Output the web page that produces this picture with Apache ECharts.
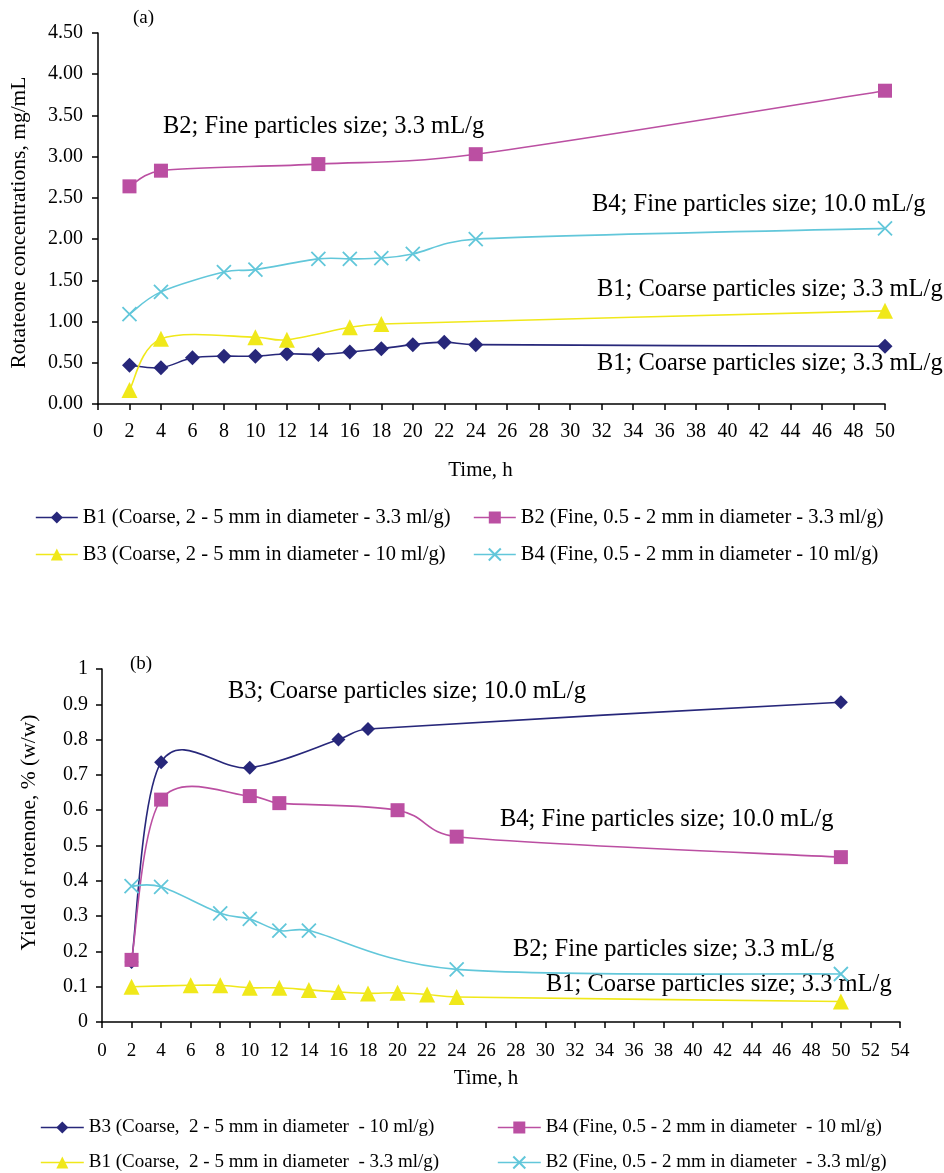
<!DOCTYPE html>
<html>
<head>
<meta charset="utf-8">
<script src="https://cdn.jsdelivr.net/npm/echarts@6/dist/echarts.min.js"></script>
<style>
html,body{margin:0;padding:0;background:#fff;}
#c{width:944px;height:1173px;}
</style>
</head>
<body>
<div id="c"></div>
<script>
// ---------- Panel (a): Rotateone concentrations, mg/mL ----------
const aB1_t = [2,4,6,8,10,12,14,16,18,20,22,24,50];
const aB1_v = [0.47,0.44,0.56,0.58,0.58,0.61,0.60,0.63,0.67,0.72,0.75,0.72,0.70];
const aB2_t = [2,4,14,24,50];
const aB2_v = [2.64,2.83,2.91,3.03,3.80];
const aB3_t = [2,4,10,12,16,18,50];
const aB3_v = [0.17,0.79,0.81,0.78,0.93,0.97,1.13];
const aB4_t = [2,4,8,10,14,16,18,20,24,50];
const aB4_v = [1.09,1.36,1.60,1.63,1.76,1.76,1.77,1.82,2.00,2.13];

// ---------- Panel (b): Yield of rotenone, % (w/w) ----------
const bB3_t = [2,4,10,16,18,50];
const bB3_v = [0.17,0.736,0.72,0.80,0.83,0.906];
const bB4_t = [2,4,10,12,20,24,50];
const bB4_v = [0.176,0.63,0.64,0.62,0.60,0.525,0.467];
const bB1_t = [2,6,8,10,12,14,16,18,20,22,24,50];
const bB1_v = [0.100,0.104,0.104,0.097,0.097,0.091,0.085,0.081,0.083,0.078,0.071,0.058];
const bB2_t = [2,4,8,10,12,14,24,50];
const bB2_v = [0.385,0.383,0.308,0.292,0.259,0.259,0.149,0.136];

// legend names
const nameA = [
  'B1 (Coarse, 2 - 5 mm in diameter - 3.3 ml/g)',
  'B2 (Fine, 0.5 - 2 mm in diameter - 3.3 ml/g)',
  'B3 (Coarse, 2 - 5 mm in diameter - 10 ml/g)',
  'B4 (Fine, 0.5 - 2 mm in diameter - 10 ml/g)'
];
const nameB = [
  'B3 (Coarse,  2 - 5 mm in diameter  - 10 ml/g)',
  'B4 (Fine, 0.5 - 2 mm in diameter  - 10 ml/g)',
  'B1 (Coarse,  2 - 5 mm in diameter  - 3.3 ml/g)',
  'B2 (Fine, 0.5 - 2 mm in diameter  - 3.3 ml/g)'
];

// annotation texts
const annA = [
  'B2; Fine particles size; 3.3 mL/g',
  'B4; Fine particles size; 10.0 mL/g',
  'B1; Coarse particles size; 3.3 mL/g',
  'B1; Coarse particles size; 3.3 mL/g'
];
const annB = [
  'B3; Coarse particles size; 10.0 mL/g',
  'B4; Fine particles size; 10.0 mL/g',
  'B2; Fine particles size; 3.3 mL/g',
  'B1; Coarse particles size; 3.3 mL/g'
];

const FONT = '"Liberation Serif", "Times New Roman", serif';
const NAVY = '#27277a';
const MAG = '#bb4fa2';
const YEL = '#f0e81a';
const CYAN = '#62c7da';
const XSYM = 'path://M0,0L10,10M10,0L0,10';
const LW = 1.6;

function pairs(t, v){ return t.map((x,i)=>[x, v[i]]); }

// markers (line itself hidden; drawn by the smooth curve series below)
function mkSeries(name, t, v, color, symbol, size, gi, isX){
  return {
    type:'line', name:name, xAxisIndex:gi, yAxisIndex:gi,
    data: pairs(t,v), smooth:false, symbol:symbol, symbolSize:size,
    showAllSymbol:true,
    lineStyle:{color:color, width:LW, opacity:0},
    itemStyle: isX ? {color:color, borderColor:color, borderWidth:1.8} : {color:color, borderWidth:0},
    emphasis:{disabled:true}, animation:false, z:3
  };
}

// Excel-like smoothed curve (Bezier, 1/6 tension, arm limited to half segment) via axis coords
function dist(a,b){ return Math.hypot(a[0]-b[0], a[1]-b[1]); }
function curveSeries(t, v, color, gi){
  const data = pairs(t,v);
  const n = data.length;
  return {
    type:'custom', xAxisIndex:gi, yAxisIndex:gi, silent:true, z:2, animation:false,
    data:data,
    renderItem:function(params, api){
      const i = params.dataIndex;
      if (i >= n-1) return null;
      const P = k => api.coord(data[Math.max(0, Math.min(n-1, k))]);
      const p0 = P(i-1), p1 = P(i), p2 = P(i+1), p3 = P(i+2);
      const d12 = dist(p1,p2), d02 = dist(p0,p2), d13 = dist(p1,p3);
      const f1 = d02 > 1e-9 ? Math.min(1/6, d12/(2*d02)) : 0;
      const f2 = d13 > 1e-9 ? Math.min(1/6, d12/(2*d13)) : 0;
      const c1 = [p1[0] + (p2[0]-p0[0])*f1, p1[1] + (p2[1]-p0[1])*f1];
      const c2 = [p2[0] - (p3[0]-p1[0])*f2, p2[1] - (p3[1]-p1[1])*f2];
      return {
        type:'bezierCurve',
        shape:{x1:p1[0], y1:p1[1], x2:p2[0], y2:p2[1], cpx1:c1[0], cpy1:c1[1], cpx2:c2[0], cpy2:c2[1]},
        style:{stroke:color, lineWidth:LW, fill:null}
      };
    }
  };
}

function axisX(gi, max, fs, margin, gap, padRight){
  return {
    type:'value', gridIndex:gi, min:0, max:max, interval:2, splitLine:{show:false},
    axisLine:{show:true, onZero:false, lineStyle:{color:'#000', width:1.5}},
    axisTick:{show:true, inside:false, length:6, lineStyle:{color:'#000', width:1.5}},
    axisLabel:{color:'#000', fontFamily:FONT, fontSize:fs, margin:margin},
    name:'Time, h', nameLocation:'middle', nameGap:gap,
    nameTextStyle:{color:'#000', fontFamily:FONT, fontSize:21, padding:[0,padRight,0,0]}
  };
}
function axisY(gi, max, interval, fs, margin, fmt, name, gap, pad){
  return {
    type:'value', gridIndex:gi, min:0, max:max, interval:interval, splitLine:{show:false},
    axisLine:{show:true, onZero:false, lineStyle:{color:'#000', width:1.5}},
    axisTick:{show:true, inside:false, length:6, lineStyle:{color:'#000', width:1.5}},
    axisLabel:{color:'#000', fontFamily:FONT, fontSize:fs, margin:margin, formatter:fmt},
    name:name, nameLocation:'middle', nameRotate:90, nameGap:gap,
    nameTextStyle:{color:'#000', fontFamily:FONT, fontSize:21.5, padding:pad}
  };
}

function legendAt(name, left, top, iw, fs){
  return {
    data:[name], left:left, top:top, orient:'horizontal',
    itemWidth:iw, itemHeight:15, itemGap:0, padding:0,
    lineStyle:{opacity:1, width:LW},
    textStyle:{color:'#000', fontFamily:FONT, fontSize:fs},
    selectedMode:false
  };
}

function txt(s, x, y, size){
  return {type:'text', x:x, y:y, silent:true,
    style:{text:s, fill:'#000', font: size+'px ' + FONT, textVerticalAlign:'middle'}};
}

const option = {
  backgroundColor:'#fff',
  animation:false,
  grid:[
    {left:97, top:33, width:788, height:371, containLabel:false},
    {left:102, top:669, width:798, height:353, containLabel:false}
  ],
  xAxis:[
    axisX(0, 50, 20, 18, 56, 22),
    axisX(1, 54, 19, 20, 46, 30)
  ],
  yAxis:[
    axisY(0, 4.5, 0.5, 20, 15, v=>v.toFixed(2), 'Rotateone concentrations, mg/mL', 68, [0,8,0,0]),
    axisY(1, 1, 0.1, 20, 14, v=>String(+v.toFixed(1)), 'Yield of rotenone, % (w/w)', 62, [0,0,0,26])
  ],
  legend:[
    legendAt(nameA[0], 35, 507, 42, 20.5),
    legendAt(nameA[1], 473, 507, 42, 20.5),
    legendAt(nameA[2], 35, 544, 42, 20.5),
    legendAt(nameA[3], 473, 544, 42, 20.5),
    legendAt(nameB[0], 40, 1118, 43, 19),
    legendAt(nameB[1], 497, 1118, 43, 19),
    legendAt(nameB[2], 40, 1153, 43, 19),
    legendAt(nameB[3], 497, 1153, 43, 19)
  ],
  series:[
    curveSeries(aB1_t, aB1_v, NAVY, 0),
    curveSeries(aB2_t, aB2_v, MAG, 0),
    curveSeries(aB3_t, aB3_v, YEL, 0),
    curveSeries(aB4_t, aB4_v, CYAN, 0),
    curveSeries(bB3_t, bB3_v, NAVY, 1),
    curveSeries(bB4_t, bB4_v, MAG, 1),
    curveSeries(bB1_t, bB1_v, YEL, 1),
    curveSeries(bB2_t, bB2_v, CYAN, 1),
    mkSeries(nameA[0], aB1_t, aB1_v, NAVY, 'diamond', 15, 0),
    mkSeries(nameA[1], aB2_t, aB2_v, MAG, 'rect', 14, 0),
    mkSeries(nameA[2], aB3_t, aB3_v, YEL, 'triangle', 16, 0),
    mkSeries(nameA[3], aB4_t, aB4_v, CYAN, XSYM, 14, 0, true),
    mkSeries(nameB[0], bB3_t, bB3_v, NAVY, 'diamond', 14, 1),
    mkSeries(nameB[1], bB4_t, bB4_v, MAG, 'rect', 14, 1),
    mkSeries(nameB[2], bB1_t, bB1_v, YEL, 'triangle', 16, 1),
    mkSeries(nameB[3], bB2_t, bB2_v, CYAN, XSYM, 14, 1, true)
  ],
  graphic:[
    txt('(a)', 133, 18, 19),
    txt(annA[0], 163, 127, 24.5),
    txt(annA[1], 592, 205, 24.5),
    txt(annA[2], 597, 290, 24.5),
    txt(annA[3], 597, 364, 24.5),
    txt('(b)', 130, 664, 19),
    txt(annB[0], 228, 692, 24.5),
    txt(annB[1], 500, 820, 24.5),
    txt(annB[2], 513, 950, 24.5),
    txt(annB[3], 546, 985, 24.5)
  ]
};

const chart = echarts.init(document.getElementById('c'), null, {renderer:'canvas'});
chart.setOption(option);
</script>
</body>
</html>
